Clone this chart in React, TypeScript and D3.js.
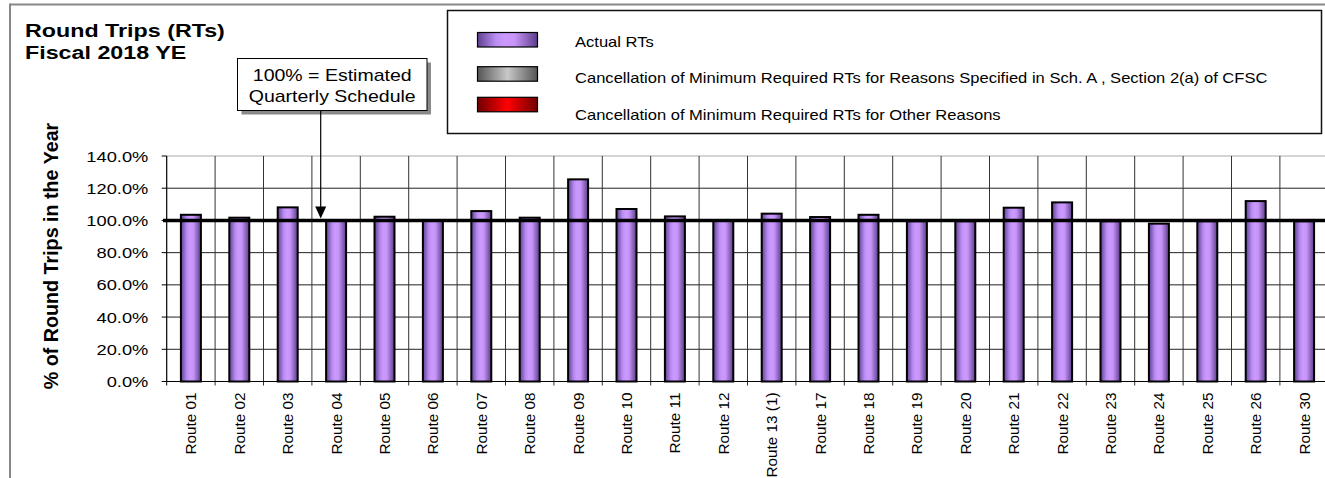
import React from "react";
import * as d3 from "d3";

const routes = ["Route 01","Route 02","Route 03","Route 04","Route 05","Route 06","Route 07","Route 08","Route 09","Route 10","Route 11","Route 12","Route 13 (1)","Route 17","Route 18","Route 19","Route 20","Route 21","Route 22","Route 23","Route 24","Route 25","Route 26","Route 30"];
const actualRTs = [103.5,101.7,108.1,99.8,102.3,99.8,105.8,101.7,125.5,107.1,102.5,99.8,104.2,102.1,103.5,99.5,99.5,107.9,111.2,99.5,98.0,99.5,112.0,99.5];
const yTicks = [0,20,40,60,80,100,120,140];
const legendLabels = [
  "Actual RTs",
  "Cancellation of Minimum Required RTs for Reasons Specified in Sch. A , Section 2(a) of CFSC",
  "Cancellation of Minimum Required RTs for Other Reasons",
];
const titleLines = ["Round Trips (RTs)", "Fiscal 2018 YE"];
const annotationLines = ["100% = Estimated", "Quarterly Schedule"];
const yAxisTitle = "% of Round Trips in the Year";
const referenceValue = 100;

const FONT = "'Liberation Sans', Arial, Helvetica, sans-serif";
const SX = 1.2;

const SText = ({ x, y, size, bold = false, anchor = "start", sx = SX, children }: any) => (
  <text
    transform={`translate(${x},${y}) scale(${sx},1)`}
    fontFamily={FONT}
    fontSize={size}
    fontWeight={bold ? "bold" : "normal"}
    textAnchor={anchor}
    fill="#000"
  >
    {children}
  </text>
);

export default function App() {
  const W = 1325, H = 478;
  const x0 = 166.7;
  const step = 48.4;
  const xCat = d3.scaleBand<string>().domain(routes).range([x0, x0 + step * routes.length]);
  const barW = xCat.bandwidth() * 0.413;
  const y = d3.scaleLinear().domain([0, 140]).range([381.5, 156]);
  const plotRight = W;

  const legendSwatchY = [32.5, 66.7, 97.3];
  const legendTextY = [46.7, 83.3, 120];
  const legendGrad = ["gPurple", "gGray", "gRed"];

  return (
    <svg width={W} height={H} style={{ position: "absolute", left: 0, top: 0, background: "#fff" }}>
      <defs>
        <linearGradient id="gPurple" x1="0" x2="1" y1="0" y2="0">
          <stop offset="0" stopColor="#5e4090" />
          <stop offset="0.3" stopColor="#b98cf2" />
          <stop offset="0.45" stopColor="#cc99ff" />
          <stop offset="0.62" stopColor="#c795f8" />
          <stop offset="1" stopColor="#5a3c88" />
        </linearGradient>
        <linearGradient id="gGray" x1="0" x2="1" y1="0" y2="0">
          <stop offset="0" stopColor="#555" />
          <stop offset="0.5" stopColor="#c8c8c8" />
          <stop offset="1" stopColor="#555" />
        </linearGradient>
        <linearGradient id="gRed" x1="0" x2="1" y1="0" y2="0">
          <stop offset="0" stopColor="#700000" />
          <stop offset="0.5" stopColor="#ff0000" />
          <stop offset="1" stopColor="#700000" />
        </linearGradient>
      </defs>

      {/* outer chart border */}
      <line x1={10} x2={W} y1={4.5} y2={4.5} stroke="#888" strokeWidth={2} />
      <line x1={10} x2={10} y1={3.5} y2={H} stroke="#888" strokeWidth={2} />

      {/* title */}
      {titleLines.map((t, i) => (
        <SText key={t} x={25} y={36.7 + i * 22.6} size={19} bold sx={1.225}>{t}</SText>
      ))}

      {/* horizontal gridlines */}
      {yTicks.map((t) => (
        <line key={"h" + t} x1={x0} x2={plotRight} y1={y(t)} y2={y(t)}
          stroke={t === 140 ? "#aaa" : "#222"} strokeWidth={1} />
      ))}
      {/* vertical gridlines */}
      {routes.map((r, i) => i > 0 ? (
        <line key={"v" + r} x1={xCat(r)!} x2={xCat(r)!} y1={y(140)} y2={y(0) + 4} stroke="#333" strokeWidth={1} />
      ) : null)}

      {/* y axis */}
      <line x1={x0} x2={x0} y1={y(140)} y2={y(0)} stroke="#000" strokeWidth={1.2} />
      {yTicks.map((t) => (
        <g key={"yt" + t}>
          <line x1={x0 - 5} x2={x0} y1={y(t)} y2={y(t)} stroke="#000" strokeWidth={1} />
          <SText x={148.3} y={y(t) + 5.6} size={15.5} anchor="end" sx={1.18}>{t.toFixed(1) + "%"}</SText>
        </g>
      ))}

      {/* bars */}
      {routes.map((r, i) => (
        <rect key={"b" + r}
          x={xCat(r)! + (xCat.bandwidth() - barW) / 2}
          y={y(actualRTs[i])}
          width={barW}
          height={y(0) - y(actualRTs[i])}
          fill="url(#gPurple)" stroke="#000" strokeWidth={2} />
      ))}

      {/* x axis */}
      <line x1={x0} x2={plotRight} y1={y(0)} y2={y(0)} stroke="#000" strokeWidth={1.2} />
      <line x1={x0} x2={x0} y1={y(0)} y2={y(0) + 4} stroke="#000" strokeWidth={1} />
      {routes.map((r) => (
        <text key={"xl" + r}
          transform={`translate(${xCat(r)! + xCat.bandwidth() / 2 + 5.5},${392.5}) rotate(-90)`}
          fontFamily={FONT} fontSize={15.3} textAnchor="end" fill="#000">{r}</text>
      ))}

      {/* reference line 100% */}
      <line x1={163} x2={plotRight} y1={y(referenceValue)} y2={y(referenceValue)} stroke="#000" strokeWidth={3.5} />

      {/* y axis title */}
      <text transform={`translate(58,256) rotate(-90)`} fontFamily={FONT} fontSize={19.7}
        fontWeight="bold" textAnchor="middle" fill="#000">{yAxisTitle}</text>

      {/* annotation */}
      <rect x={241.5} y={62.5} width={189.5} height={52} fill="#8a8a8a" />
      <rect x={237.5} y={58.5} width={189.5} height={52} fill="#fff" stroke="#000" strokeWidth={1} />
      {annotationLines.map((t, i) => (
        <SText key={t} x={332.2} y={80.7 + i * 21} size={16} anchor="middle" sx={1.22}>{t}</SText>
      ))}
      <line x1={320.7} x2={320.7} y1={110.5} y2={207} stroke="#000" strokeWidth={1.2} />
      <path d={`M${315.2},${206.5}L${326.2},${206.5}L${320.7},${y(referenceValue) - 2}Z`} fill="#000" />

      {/* legend */}
      <rect x={447.5} y={10.5} width={874} height={123} fill="#fff" stroke="#111" strokeWidth={1.5} />
      {legendLabels.map((t, i) => (
        <g key={"lg" + i}>
          <rect x={477.5} y={legendSwatchY[i]} width={60} height={14.5} fill={`url(#${legendGrad[i]})`} stroke="#000" strokeWidth={1.2} />
          <SText x={575} y={legendTextY[i]} size={13.8} sx={1.2}>{t}</SText>
        </g>
      ))}
    </svg>
  );
}
